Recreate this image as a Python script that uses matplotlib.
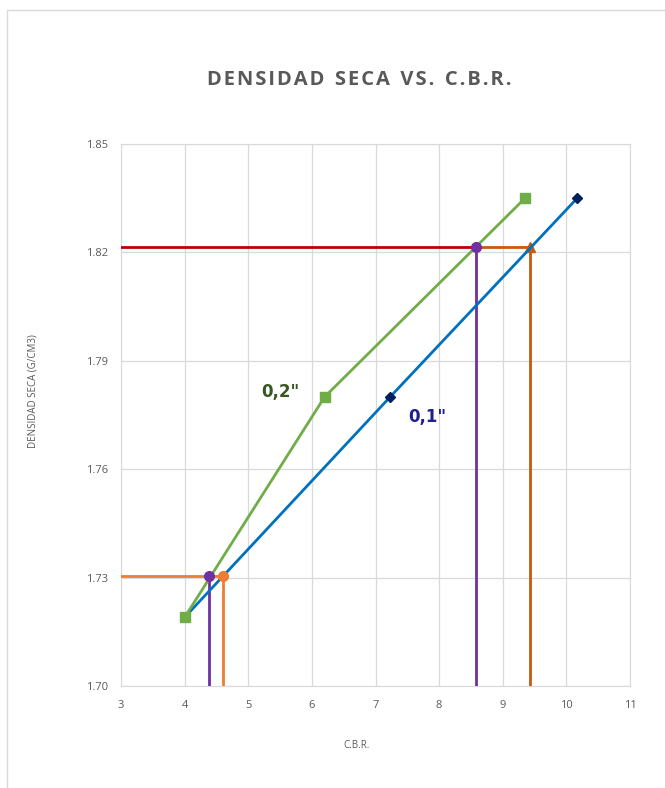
import matplotlib
matplotlib.use("Agg")
import matplotlib.pyplot as plt
from matplotlib.patches import Rectangle

plt.rcParams["font.family"] = ["Open Sans", "DejaVu Sans"]

# curve data (C.B.R. vs dry density)
cbr_02 = [4.0, 6.2, 9.35]
dens_02 = [1.719, 1.780, 1.835]
cbr_01 = [4.0, 7.23, 10.17]
dens_01 = [1.719, 1.780, 1.835]

# reading lines
dens_high = 1.8215
dens_low = 1.7305
cbr_high_02 = 8.58
cbr_high_01 = 9.43
cbr_low_02 = 4.39
cbr_low_01 = 4.60

x_ticks = [3, 4, 5, 6, 7, 8, 9, 10, 11]
y_ticks = [1.70, 1.73, 1.76, 1.79, 1.82, 1.85]

title = "DENSIDAD SECA VS. C.B.R."

fig = plt.figure(figsize=(6.65, 7.88), dpi=100, facecolor="white")
# chart-area border (only top/left edges fall inside the picture)
fig.patches.append(Rectangle((7 / 665, -0.05), 1.1, 1 - 10 / 788 + 0.05,
                             transform=fig.transFigure, fill=False,
                             edgecolor="#d9d9d9", linewidth=1))
ax = fig.add_axes([121 / 665, 102 / 788, 509 / 665, 542 / 788])

ax.set_xlim(3, 11)
ax.set_ylim(1.70, 1.85)
ax.set_xticks(x_ticks)
ax.set_yticks(y_ticks)
ax.set_yticklabels([f"{v:.2f}" for v in y_ticks])
ax.grid(True, color="#d9d9d9", linewidth=0.9)
ax.set_axisbelow(True)
for s in ax.spines.values():
    s.set_color("#d9d9d9")
ax.tick_params(axis="y", length=0, labelsize=8, labelcolor="#595959", pad=9)
ax.tick_params(axis="x", length=0, labelsize=8, labelcolor="#595959", pad=10)

# upper reading lines
ax.plot([3, cbr_high_02], [dens_high, dens_high], color="#C00000", lw=2, zorder=3)
ax.plot([cbr_high_02, cbr_high_01], [dens_high, dens_high], color="#C55A11", lw=2, zorder=3)
ax.plot([cbr_high_02, cbr_high_02], [1.70, dens_high], color="#7030A0", lw=2, zorder=3)
ax.plot([cbr_high_01, cbr_high_01], [1.70, dens_high], color="#C55A11", lw=2, zorder=3)
ax.plot([cbr_high_01], [dens_high], marker="^", color="#C55A11", ms=7, zorder=4)

# lower reading lines
ax.plot([3, cbr_low_01], [dens_low, dens_low], color="#ED7D31", lw=2, zorder=3)
ax.plot([cbr_low_02, cbr_low_02], [1.70, dens_low], color="#7030A0", lw=2, zorder=3)
ax.plot([cbr_low_01, cbr_low_01], [1.70, dens_low], color="#ED7D31", lw=2, zorder=3)

# curves
ax.plot(cbr_01, dens_01, color="#0070C0", lw=2, marker="D", ms=5,
        mfc="#002060", mec="#002060", zorder=5)
ax.plot(cbr_02, dens_02, color="#70AD47", lw=2, marker="s", ms=7,
        mfc="#70AD47", mec="#70AD47", zorder=6)

# reading points
ax.plot([cbr_low_01], [dens_low], "o", color="#ED7D31", ms=7, zorder=7)
ax.plot([cbr_low_02, cbr_high_02], [dens_low, dens_high], "o", color="#7030A0", ms=7, zorder=8)

ax.text(5.2, 1.7815, '0,2"', color="#375623", fontsize=12, fontweight="bold",
        family=["DejaVu Sans"], ha="left", va="center")
ax.text(7.52, 1.7745, '0,1"', color="#1F1F8F", fontsize=12, fontweight="bold",
        family=["DejaVu Sans"], ha="left", va="center")

# spaced-out title letters, like the original chart
spaced = "  ".join("\u200a".join(w) for w in title.split(" "))
fig.text(359 / 665, 1 - 80 / 788, spaced, ha="center", va="center",
         fontsize=14.5, fontweight="bold", color="#595959",
         family=["Open Sans", "DejaVu Sans"])
fig.text(33 / 665, 1 - 391 / 788, "DENSIDAD SECA (G/CM3)", rotation=90, ha="center",
         va="center", fontsize=7, color="#595959")
fig.text(357 / 665, 1 - 745 / 788, "C.B.R.", ha="center", va="center",
         fontsize=7, color="#595959")

fig.savefig("out.png", dpi=100)
